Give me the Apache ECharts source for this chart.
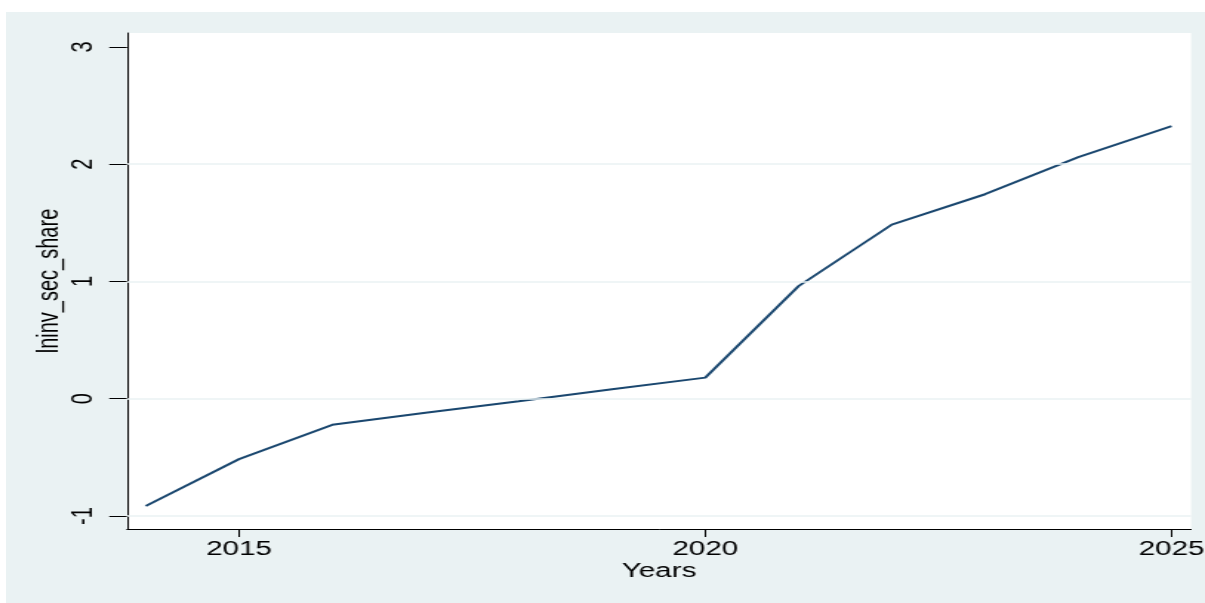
<!DOCTYPE html>
<html>
<head>
<meta charset="utf-8">
<script src="https://cdn.jsdelivr.net/npm/echarts@6/dist/echarts.min.js"></script>
<style>
  html, body { margin: 0; padding: 0; background: #ffffff; width: 1205px; height: 603px; overflow: hidden; }
  #chart { position: absolute; left: 6px; top: 12px; width: 810px; height: 591px;
           transform: scaleX(1.4802); transform-origin: 0 0; }
</style>
</head>
<body>
<div id="chart"></div>
<script>
// Data
const years = [2014, 2015, 2016, 2017, 2018, 2019, 2020, 2021, 2022, 2023, 2024, 2025];
const lninvSecShare = [-0.915, -0.515, -0.222, -0.12, -0.022, 0.08, 0.18, 0.96, 1.485, 1.744, 2.06, 2.325];
const xTicks = [2015, 2020, 2025];
const yTicks = [-1, 0, 1, 2, 3];
const yGridLines = [-1, 0, 1, 2];

const chart = echarts.init(document.getElementById('chart'));
const font = 'Liberation Sans, Arial, sans-serif';

chart.setOption({
  backgroundColor: '#EAF2F3',
  animation: false,
  grid: {
    left: 81.75, right: 9.4, top: 21, bottom: 74,
    containLabel: false,
    outerBoundsMode: 'none',
    show: true, backgroundColor: '#ffffff', borderWidth: 0
  },
  xAxis: {
    type: 'value',
    min: 2013.799, max: 2025.209,
    name: 'Years',
    nameLocation: 'middle',
    nameGap: 32,
    nameMoveOverlap: false,
    nameTextStyle: { fontFamily: font, fontSize: 20, color: '#000' },
    axisLine: { show: true, onZero: false, lineStyle: { color: '#000', width: 1 } },
    axisTick: { show: true, length: 8, customValues: xTicks, lineStyle: { color: '#000' } },
    axisLabel: { customValues: xTicks, formatter: v => String(v), fontFamily: font, fontSize: 20, color: '#000', margin: 10, hideOverlap: false },
    splitLine: { show: false }
  },
  yAxis: {
    type: 'value',
    min: -1.111, max: 3.119,
    name: 'lninv_sec_share',
    nameLocation: 'middle',
    nameGap: 42,
    nameRotate: 90,
    nameMoveOverlap: false,
    nameTextStyle: { fontFamily: font, fontSize: 20, color: '#000' },
    axisLine: { show: true, onZero: false, lineStyle: { color: '#000', width: 1 } },
    axisTick: { show: true, length: 12, customValues: yTicks, lineStyle: { color: '#000' } },
    axisLabel: { customValues: yTicks, formatter: v => String(v), rotate: 90, fontFamily: font, fontSize: 20, color: '#000', margin: 19.5, hideOverlap: false },
    splitLine: { show: false }
  },
  series: [{
    type: 'line',
    data: years.map((y, i) => [y, lninvSecShare[i]]),
    symbol: 'none',
    lineStyle: { color: '#1A476F', width: 2 },
    markLine: {
      silent: true,
      symbol: 'none',
      label: { show: false },
      lineStyle: { color: '#EAF2F3', width: 1.5, type: 'solid' },
      data: yGridLines.map(v => ({ yAxis: v }))
    },
    z: 3
  }]
});
</script>
</body>
</html>
